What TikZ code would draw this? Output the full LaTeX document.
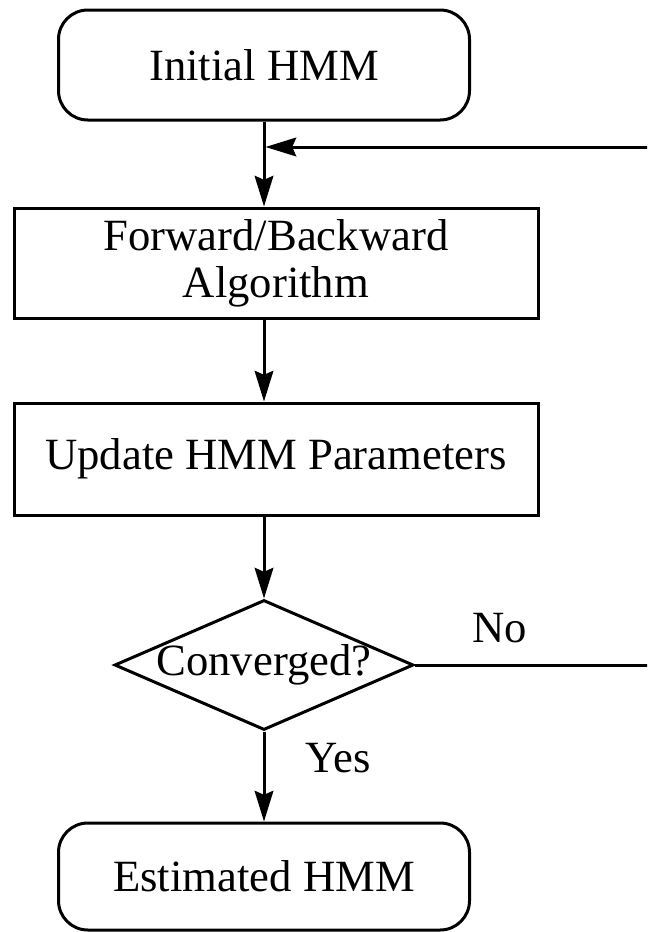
\documentclass[tikz,border=0pt]{standalone}
\usepackage{fontspec}
\setmainfont{Liberation Serif}
\usepackage{tikz}
\usetikzlibrary{shapes.geometric}
\usetikzlibrary{arrows.meta}
\usetikzlibrary{positioning}

\begin{document}
\begin{tikzpicture}[x=0.75pt, y=-0.75pt,
		every node/.style={font=\fontsize{33.5}{35.25}\selectfont},
		term/.style={draw, line width=2.25pt, rounded corners=22pt, minimum width=308.25pt, inner sep=2pt},
		box/.style={draw, line width=2.25pt, minimum width=393pt, inner sep=2pt, align=center},
		decide/.style={draw, diamond, line width=2.25pt, aspect=2.3, minimum width=224.25pt, minimum height=97.5pt, inner sep=0pt},
		flow/.style={line width=2.25pt, -{Stealth[length=23pt, width=14pt, inset=3pt]}},
		lbl/.style={inner sep=0pt}]
				% Nodes, labels and flow lines:
				\useasboundingbox (0, 0) rectangle (647, 932);
				\clip (0, 0) rectangle (647, 932);
				\node[term, minimum height=82.5pt](init) at (264, 65){Initial HMM};
				\node[box, minimum height=82.5pt](fwd) at (276, 263){Forward/Backward\\Algorithm};
				\node[box, minimum height=84pt](upd) at (276, 459){Update HMM Parameters};
				\node[decide](conv) at (264, 665){\makebox[0pt]{Converged?}};
				\node[term, minimum height=80.25pt](est) at (264, 876.5){Estimated HMM};
				\node[lbl](no) at (500, 628){No};
				\node[lbl](yes) at (338, 758){Yes};
				\coordinate (merge) at (265.5, 147);
				\coordinate (edge) at (662, 665);
				\draw[flow] (init.south) -- (init.south |- fwd.north);
				\draw[flow] (init |- fwd.south) -- (init |- upd.north);
				\draw[flow] (conv |- upd.south) -- (conv.north);
				\draw[flow] (conv.south) -- (est.north);
				\draw[flow] (conv.east) -- (edge) |- (merge);
			\end{tikzpicture}
\end{document}
